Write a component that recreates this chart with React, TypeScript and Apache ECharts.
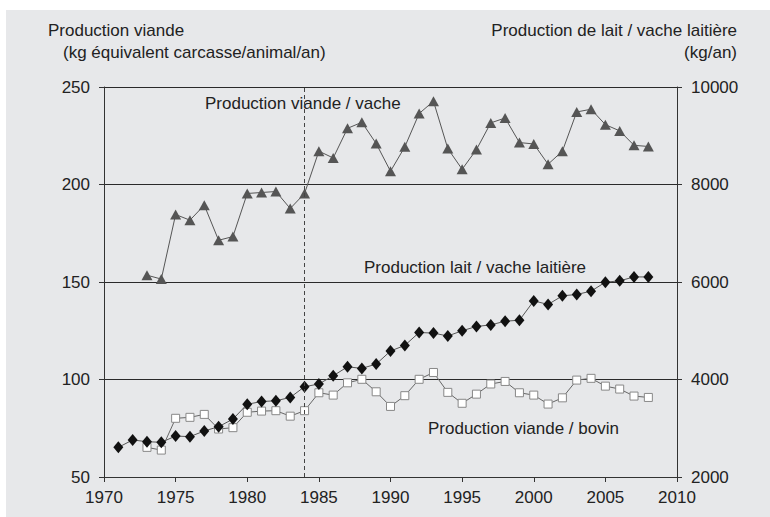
import React, { useEffect, useRef } from "react";
import * as echarts from "echarts";

const years: number[] = [1971,1972,1973,1974,1975,1976,1977,1978,1979,1980,1981,1982,1983,1984,1985,1986,1987,1988,1989,1990,1991,1992,1993,1994,1995,1996,1997,1998,1999,2000,2001,2002,2003,2004,2005,2006,2007,2008];

// Production viande / vache (kg/animal/an), 1973-2008
const viandeVacheYears: number[] = [1973,1974,1975,1976,1977,1978,1979,1980,1981,1982,1983,1984,1985,1986,1987,1988,1989,1990,1991,1992,1993,1994,1995,1996,1997,1998,1999,2000,2001,2002,2003,2004,2005,2006,2007,2008];
const viandeVache: number[] = [153.5,151.5,184.6,181.7,189.4,171.4,173.3,195.4,195.9,196.4,187.7,195.4,217.1,213.6,228.8,231.9,221,206.8,219.3,236.4,242.7,218.4,207.8,217.9,231.6,234.1,221.5,220.8,210.4,217.1,237.2,238.6,230.7,227.5,220.1,219.5];

// Production lait / vache laitière (kg/an), 1971-2008
const laitVache: number[] = [2608,2760,2724,2712,2840,2828,2944,3032,3188,3492,3548,3564,3632,3852,3908,4076,4260,4228,4316,4584,4700,4964,4952,4892,5000,5088,5120,5196,5216,5612,5540,5716,5744,5812,5996,6024,6104,6104];

// Production viande / bovin (kg/animal/an), 1973-2008
const viandeBovinYears: number[] = viandeVacheYears;
const viandeBovin: number[] = [65.2,63.8,80.1,80.6,82.1,74.6,75.3,83.2,83.8,84,81.2,84,93.2,92,98.3,100.1,93.7,86.2,91.7,100.1,103.6,93.4,87.8,92.5,97.7,99,93.2,92,87.4,90.6,99.7,100.6,96.6,95.1,91.5,90.8];

const xTicks = { min: 1970, max: 2010, interval: 5 };
const leftTicks = { min: 50, max: 250, interval: 50 };
const rightTicks = { min: 2000, max: 10000, interval: 2000 };

const FONT = "Liberation Sans, Arial, sans-serif";
const TXT = "#222";

export default function App() {
  const ref = useRef<HTMLDivElement>(null);
  useEffect(() => {
    if (!ref.current) return;
    const chart = echarts.init(ref.current, undefined, { renderer: "svg" });
    const axisLine = { show: true, lineStyle: { color: "#333", width: 1 } };
    const plain = (v: number) => String(v);
    const option: any = {
      animation: false,
      backgroundColor: "transparent",
      textStyle: { fontFamily: FONT },
      grid: { left: 104, right: 93, top: 87, bottom: 40 },
      xAxis: {
        type: "value",
        min: xTicks.min,
        max: xTicks.max,
        interval: xTicks.interval,
        axisLine,
        axisTick: { show: true, inside: false, length: 5, lineStyle: { color: "#333" } },
        axisLabel: { color: TXT, fontSize: 17, fontFamily: FONT, margin: 12, formatter: plain },
        splitLine: { show: false },
      },
      yAxis: [
        {
          type: "value",
          position: "left",
          min: leftTicks.min,
          max: leftTicks.max,
          interval: leftTicks.interval,
          axisLine,
          axisTick: { show: true, inside: false, length: 5, lineStyle: { color: "#333" } },
          axisLabel: { color: TXT, fontSize: 17, fontFamily: FONT, margin: 14, formatter: plain },
          splitLine: { show: true, lineStyle: { color: "#2a2a2a", width: 1 } },
        },
        {
          type: "value",
          position: "right",
          min: rightTicks.min,
          max: rightTicks.max,
          interval: rightTicks.interval,
          axisLine,
          axisTick: { show: true, inside: false, length: 5, lineStyle: { color: "#333" } },
          axisLabel: { color: TXT, fontSize: 17, fontFamily: FONT, margin: 14, formatter: plain },
          splitLine: { show: false },
        },
      ],
      graphic: [
        { type: "text", left: 48, top: 22, style: { text: "Production viande", fill: TXT, font: `17px ${FONT}` } },
        { type: "text", left: 63, top: 44, style: { text: "(kg équivalent carcasse/animal/an)", fill: TXT, font: `17px ${FONT}` } },
        { type: "text", right: 33, top: 22, style: { text: "Production de lait / vache laitière", fill: TXT, font: `17px ${FONT}`, align: "right" } },
        { type: "text", right: 33, top: 44, style: { text: "(kg/an)", fill: TXT, font: `17px ${FONT}`, align: "right" } },
        { type: "text", left: 205, top: 95, style: { text: "Production viande / vache", fill: TXT, font: `17px ${FONT}` } },
        { type: "text", left: 364, top: 259, style: { text: "Production lait / vache laitière", fill: TXT, font: `17px ${FONT}` } },
        { type: "text", left: 428, top: 420, style: { text: "Production viande / bovin", fill: TXT, font: `17px ${FONT}` } },
      ],
      series: [
        {
          name: "Production viande / vache",
          type: "line",
          yAxisIndex: 0,
          data: viandeVacheYears.map((y, i) => [y, viandeVache[i]]),
          symbol: "triangle",
          symbolSize: [11, 10],
          itemStyle: { color: "#555", borderWidth: 0 },
          lineStyle: { color: "#555", width: 1 },
          z: 3,
          markLine: {
            silent: true,
            symbol: "none",
            label: { show: false },
            lineStyle: { color: "#444", width: 1, type: [4, 3] },
            data: [{ xAxis: 1984 }],
          },
        },
        {
          name: "Production lait / vache laitière",
          type: "line",
          yAxisIndex: 1,
          data: years.map((y, i) => [y, laitVache[i]]),
          symbol: "diamond",
          symbolSize: [10, 12],
          itemStyle: { color: "#111", borderWidth: 0 },
          lineStyle: { color: "#555", width: 1 },
          z: 4,
        },
        {
          name: "Production viande / bovin",
          type: "line",
          yAxisIndex: 0,
          data: viandeBovinYears.map((y, i) => [y, viandeBovin[i]]),
          symbol: "rect",
          symbolSize: 8,
          itemStyle: { color: "#fff", borderColor: "#888", borderWidth: 1 },
          lineStyle: { color: "#666", width: 1 },
          z: 3,
        },
      ],
    };
    chart.setOption(option);
    return () => chart.dispose();
  }, []);

  return (
    <div style={{ position: "fixed", left: 0, top: 0, width: 770, height: 517, background: "#fff" }}>
      <div style={{ position: "absolute", left: 6, top: 10, right: 0, bottom: 0, background: "#e7e8ea" }} />
      <div ref={ref} style={{ position: "absolute", left: 0, top: 0, width: 770, height: 517 }} />
    </div>
  );
}
